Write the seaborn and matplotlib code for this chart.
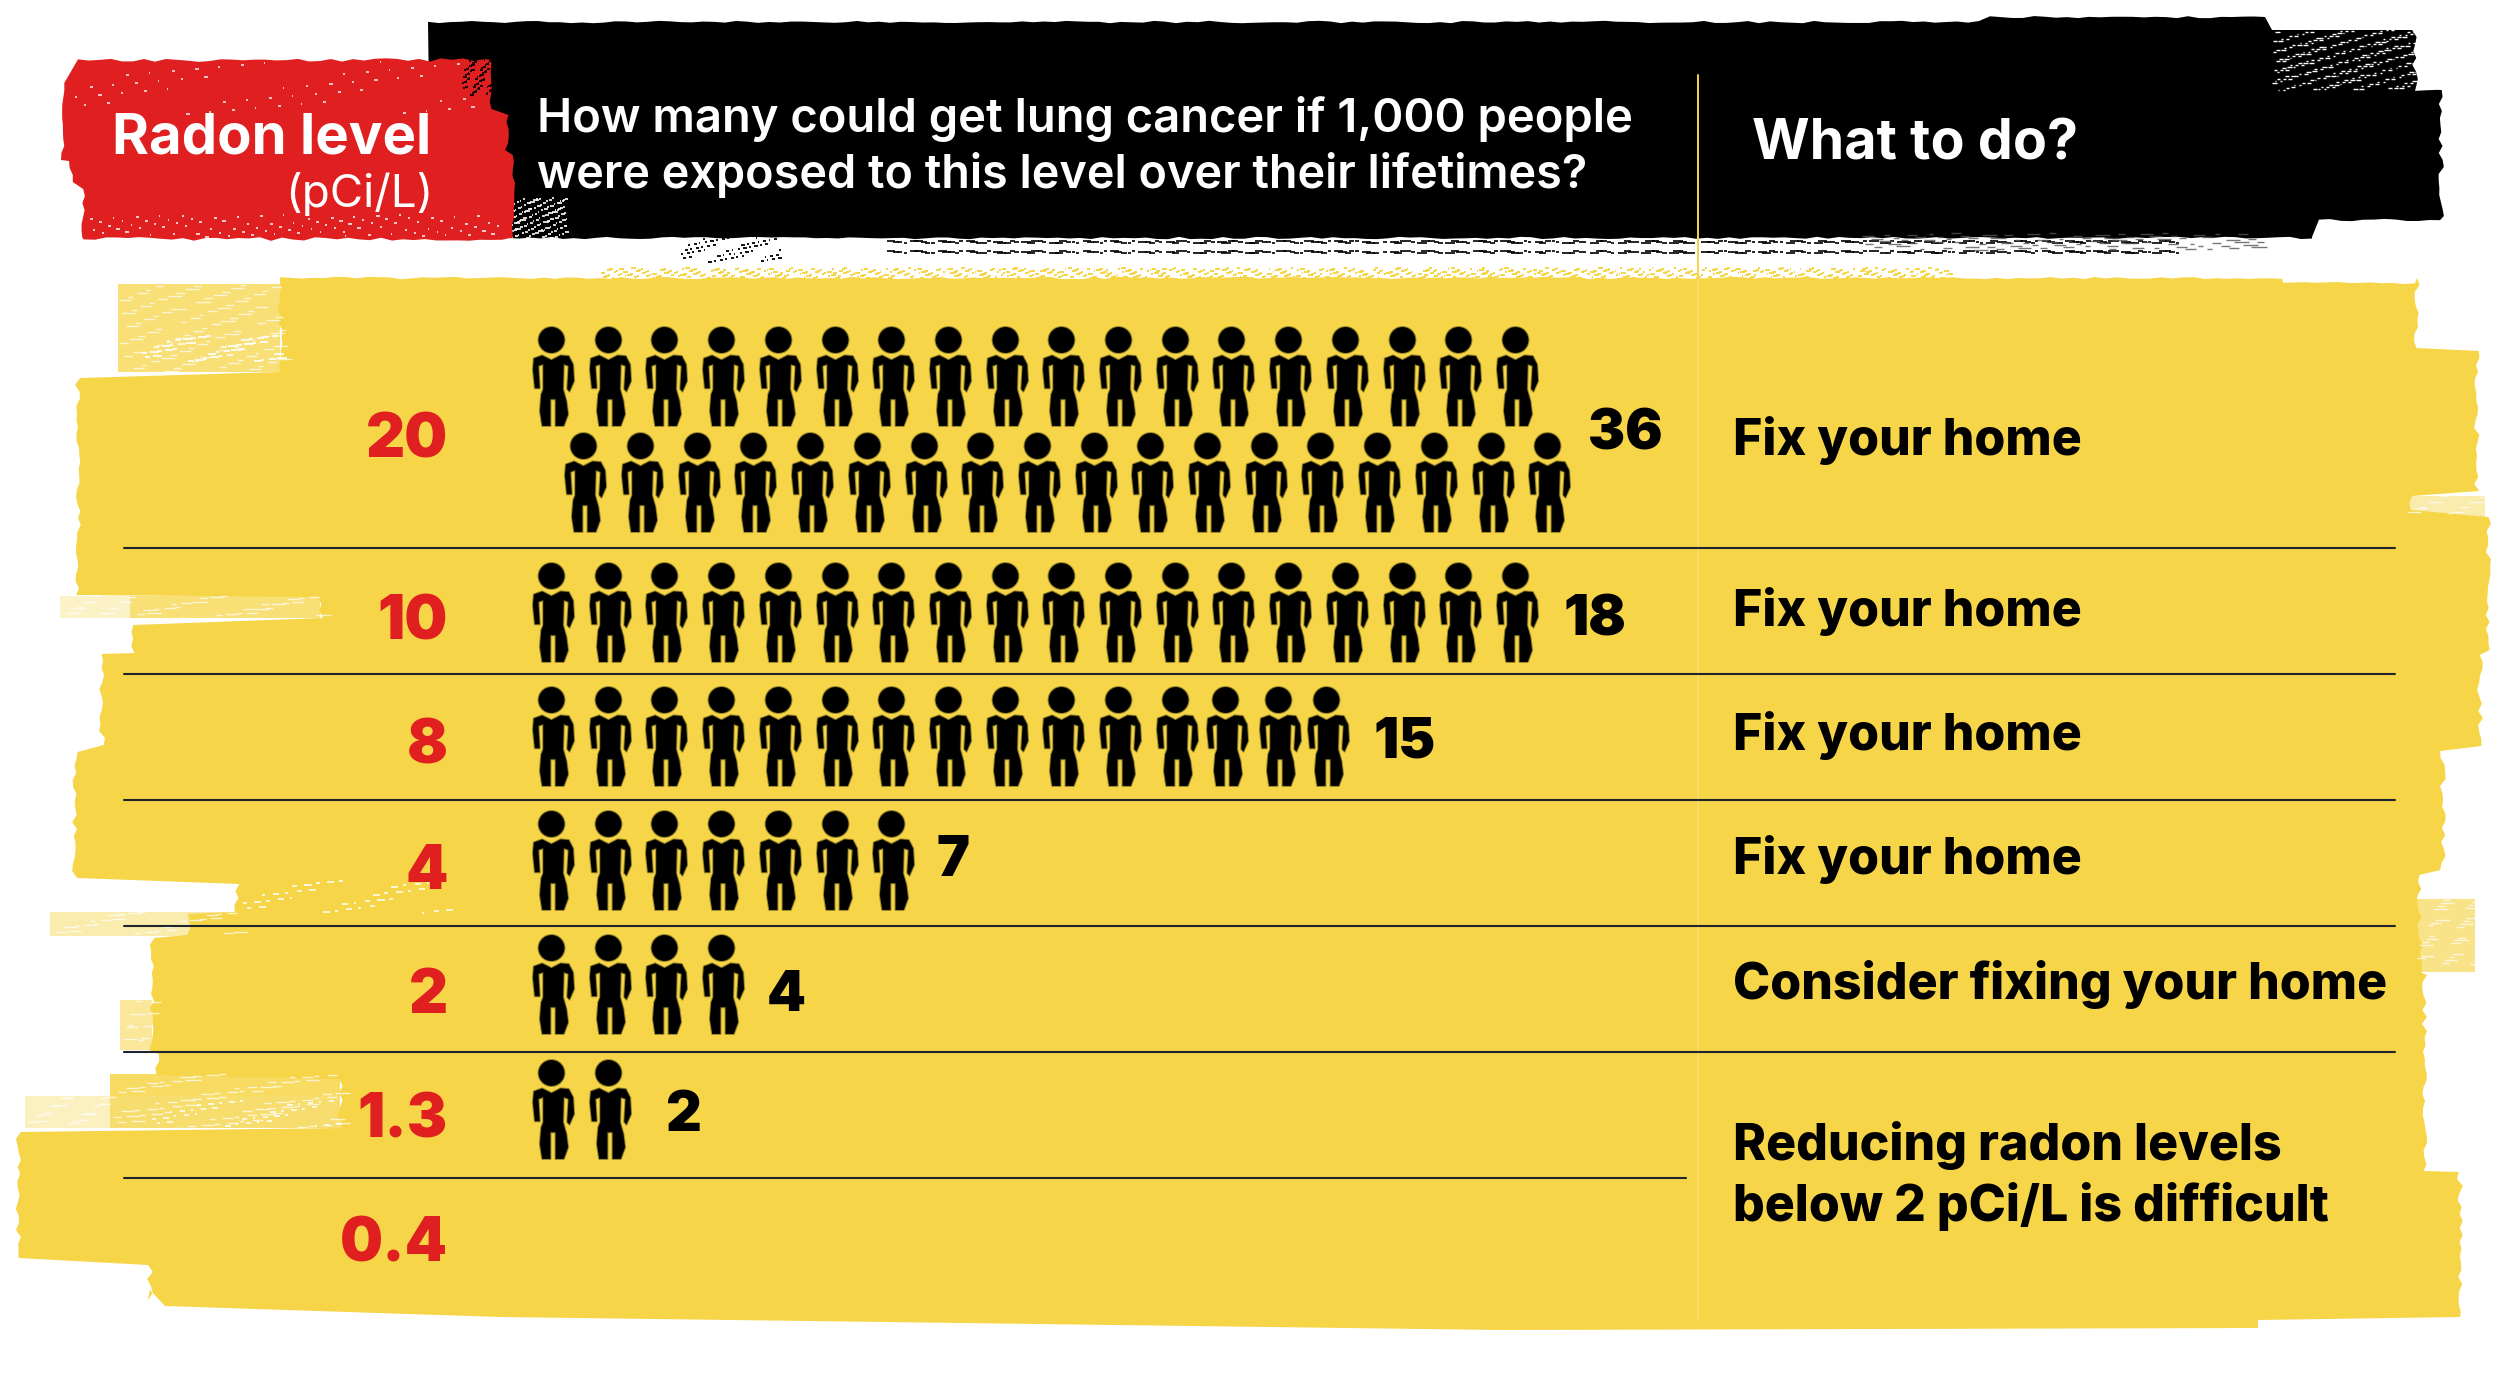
import numpy as np
import pandas as pd
import matplotlib
matplotlib.use("Agg")
import matplotlib.pyplot as plt
import seaborn as sns
from matplotlib.path import Path
from matplotlib.patches import Polygon
from matplotlib.collections import LineCollection

# chart values
radon_levels = ["20", "10", "8", "4", "2", "1.3", "0.4"]
cancer_counts = [36, 18, 15, 7, 4, 2, 0]
actions = ["Fix your home", "Fix your home", "Fix your home", "Fix your home",
           "Consider fixing your home"]
action_last = ["Reducing radon levels", "below 2 pCi/L is difficult"]

# colours
YELLOW = "#f6d548"
RED = "#e02020"
BLACK = "#000000"
RULE = "#20242c"

sns.set_theme(style="white")
plt.rcParams["font.family"] = ["Inter", "DejaVu Sans"]

fig = plt.figure(figsize=(25, 13.76), dpi=100)
ax = fig.add_axes([0, 0, 1, 1])
ax.set_xlim(0, 2500)
ax.set_ylim(1376, 0)
ax.axis("off")


def wobble(n, amp, seed=0.0):
    # deterministic rough edge, no rng
    h = np.sin(np.arange(n) * 12.9898 + seed) * 43758.5453
    return amp * (h - np.floor(h) - 0.5) * 2


def rough_v(x, y0, y1, amp=3, step=7, seed=1.0):
    ys = np.arange(y0, y1, step) if y1 > y0 else np.arange(y0, y1, -step)
    xs = x + wobble(len(ys), amp, seed + x)
    return list(zip(xs, ys))


def rough_h(y, x0, x1, amp=1.2, step=11, seed=2.0):
    xs = np.arange(x0, x1, step) if x1 > x0 else np.arange(x0, x1, -step)
    ys = y + wobble(len(xs), amp, seed + y)
    return list(zip(xs, ys))


def streaks(x0, y0, x1, y1, color, n, length=8, lw=1.2, alpha=1.0, zorder=3, seed=0.0):
    # dry brush look: short dashes on a low discrepancy grid
    i = np.arange(1, n + 1)
    u = (i * 0.6180339887 + seed) % 1
    v = (i * 0.7548776662 + seed * 0.5) % 1
    w = (i * 0.5698402910) % 1
    xs = x0 + u * (x1 - x0)
    ys = y0 + v * (y1 - y0)
    segs = [[(a, b), (a + length * (0.3 + c), b)] for a, b, c in zip(xs, ys, w)]
    ax.add_collection(LineCollection(segs, colors=color, linewidths=lw, alpha=alpha, zorder=zorder))


# yellow brush block
left_steps = [(278, 372, 280), (372, 595, 78), (595, 618, 320), (618, 653, 133), (653, 745, 102),
              (745, 878, 75), (878, 912, 237), (912, 935, 190), (935, 1050, 152), (1050, 1075, 157),
              (1075, 1128, 340), (1128, 1258, 18), (1258, 1300, 150)]
right_steps = [(278, 351, 2417), (351, 496, 2477), (496, 517, 2410), (517, 655, 2488), (655, 751, 2480),
               (751, 875, 2443), (875, 975, 2420), (975, 1172, 2425), (1172, 1317, 2460)]
outline = rough_h(278, 280, 2283, seed=3.0) + rough_h(283, 2283, 2417, seed=4.0)
for y0, y1, x in right_steps:
    outline += rough_v(x, y0, y1, amp=3)
outline += [(2460, 1317), (2258, 1320), (2258, 1328), (1500, 1330), (500, 1317), (165, 1306), (150, 1290)]
for y0, y1, x in reversed(left_steps):
    outline += rough_v(x, y1, y0, amp=3, seed=5.0)
ax.add_patch(Polygon(outline, closed=True, fc=YELLOW, ec="none", zorder=1))

# faded dry brush strips round the block: x0, y0, x1, y1, strength
faded = [(118, 284, 280, 372, 0.75), (60, 596, 130, 618, 0.3), (130, 596, 320, 618, 0.75),
         (50, 912, 237, 936, 0.45), (110, 1074, 340, 1096, 0.85), (110, 1096, 340, 1128, 0.8),
         (25, 1096, 110, 1128, 0.35), (2400, 496, 2485, 517, 0.45), (2415, 899, 2475, 972, 0.65),
         (120, 1000, 152, 1050, 0.55)]
for x0, y0, x1, y1, strength in faded:
    ax.fill_between([x0, x1], y0, y1, color=YELLOW, alpha=strength, lw=0, zorder=1)
    n = int((x1 - x0) * (y1 - y0) / 150)
    streaks(x0, y0, x1, y1, "white", n, length=12, lw=1.0, alpha=0.7, zorder=1.5)

# streak along the top of the yellow and white flecks on the left
streaks(600, 268, 1950, 278, YELLOW, 700, length=4, lw=1.4, zorder=1)
streaks(140, 335, 280, 362, "white", 45, length=8, lw=1.2, zorder=1.5)
streaks(240, 880, 450, 915, "white", 40, length=6, lw=1.1, zorder=1.5)
streaks(150, 1100, 340, 1128, "white", 40, length=5, lw=1.1, zorder=1.5)

# black header block
black_outline = (rough_h(22, 428, 1990, seed=6.0) + rough_h(17, 1990, 2272, seed=7.0)
                 + [(2272, 30), (2412, 30)] + rough_v(2415, 30, 90, amp=3)
                 + rough_h(90, 2415, 2438, seed=1.0) + rough_v(2441, 90, 220, amp=3)
                 + rough_h(220, 2440, 2312, seed=8.0) + [(2312, 237)]
                 + rough_h(238, 2312, 428, seed=9.0))
ax.add_patch(Polygon(black_outline, closed=True, fc=BLACK, ec="none", zorder=2))
streaks(2272, 30, 2415, 90, "white", 260, length=4, lw=1.0, zorder=2.2)
streaks(510, 198, 566, 238, "white", 130, length=3, lw=1.2, zorder=2.2)

# black streaks under the header
for yy in (242, 252):
    streaks(880, yy - 1.5, 2180, yy + 1.5, BLACK, 230, length=8, lw=1.2, zorder=2)
streaks(680, 238, 780, 262, BLACK, 60, length=3, lw=1.3, zorder=2)
streaks(1860, 233, 2260, 250, "#555555", 90, length=12, lw=1.0, alpha=0.8, zorder=2)

# red header box
red_outline = (rough_h(60, 78, 487, amp=2, seed=10.0) + rough_v(491, 60, 115, amp=2)
               + rough_v(507, 115, 155, amp=2) + rough_v(513, 155, 238, amp=2)
               + rough_h(239, 513, 83, amp=2, seed=11.0) + rough_v(83, 238, 182, amp=2)
               + rough_v(71, 182, 160, amp=2) + rough_v(63, 160, 78, amp=2))
ax.add_patch(Polygon(red_outline, closed=True, fc=RED, ec="none", zorder=3))
streaks(70, 62, 480, 115, "white", 55, length=3, lw=1.2, alpha=0.85, zorder=3.1)
streaks(88, 215, 500, 237, "white", 90, length=3, lw=1.2, alpha=0.9, zorder=3.1)
streaks(462, 60, 491, 95, BLACK, 60, length=3, lw=1.2, zorder=3.1)

# column divider
ax.plot([1698, 1698], [75, 278], color=YELLOW, lw=1.4, zorder=4)
ax.plot([1698, 1698], [278, 1320], color="#f8dc68", lw=1.4, zorder=1.2)

# row rules
rule_y = [548, 674, 800, 926, 1052, 1178]
for i, yy in enumerate(rule_y):
    x_end = 1686 if i == len(rule_y) - 1 else 2395
    ax.plot([124, x_end], [yy, yy], color=RULE, lw=1.5, zorder=2)

# person glyph, outline, y pointing up
raw = [(100, 172), (125, 163), (153, 177), (180, 163), (205, 165), (218, 190), (221, 240), (207, 272),
       (200, 264), (204, 195), (190, 190), (188, 265), (198, 300), (203, 340), (190, 375), (165, 375),
       (165, 295), (150, 295), (150, 375), (125, 375), (118, 330), (122, 280), (128, 265), (128, 190),
       (114, 195), (118, 262), (103, 262), (97, 205)]
raw = np.array(raw, dtype=float)
body_xy = np.column_stack([(raw[:, 0] - 159) / 3, 49.5 - (raw[:, 1] - 78) / 3])
body = Path(np.vstack([body_xy, body_xy[:1]]), closed=True)
head = Path.circle((-2, 49.5 - 13), 13)
person = Path.make_compound_path(head, body)

# one row of the table per person
col_step = 56.7
first_x = 553
row_centre = [None, 612, 736, 860, 984, 1109, None]
top_rows = [376, 482]
squeeze = {12: 11.88, 13: 12.83, 14: 13.67}
rows = []
for i, n in enumerate(cancer_counts):
    for k in range(n):
        if i == 0:
            line = k // 18
            rows.append({"level": radon_levels[i], "x": first_x + (k % 18 + 0.57 * line) * col_step, "y": top_rows[line]})
        else:
            col = squeeze.get(k, k) if i == 2 else k
            rows.append({"level": radon_levels[i], "x": first_x + col * col_step, "y": row_centre[i]})
people = pd.DataFrame(rows)
sns.scatterplot(data=people, x="x", y="y", marker=person, s=(99 * 0.72) ** 2, color=BLACK,
                edgecolor=(0.1, 0.1, 0, 0.4), linewidth=1.4, legend=False, ax=ax, zorder=5)
ax.set_xlim(0, 2500)
ax.set_ylim(1376, 0)

# radon level labels
level_base = [457, 639, 764, 889, 1013, 1138, 1262]
for lab, yy in zip(radon_levels, level_base):
    ax.text(448, yy, lab, color=RED, fontsize=43.5, fontweight=900, ha="right", va="baseline", zorder=6)

# count labels
count_x = [1588, 1564, 1374, 937, 767, 665]
count_base = [450, 635, 757, 876, 1011, 1131]
for n, xx, yy in zip(cancer_counts, count_x, count_base):
    ax.text(xx, yy, str(n), color=BLACK, fontsize=40, fontweight=900, ha="left", va="baseline", zorder=6)

# action labels
action_base = [455, 626, 750, 874, 999]
for lab, yy in zip(actions, action_base):
    ax.text(1733, yy, lab, color=BLACK, fontsize=36, fontweight=800, ha="left", va="baseline", zorder=6)
for lab, yy in zip(action_last, [1160, 1221]):
    ax.text(1733, yy, lab, color=BLACK, fontsize=36, fontweight=800, ha="left", va="baseline", zorder=6)

# header texts
ax.text(431, 153, "Radon level", color="white", fontsize=40.5, fontweight=700, ha="right", va="baseline", zorder=6)
ax.text(434, 207, "(pCi/L)", color="white", fontsize=33, fontweight=400, ha="right", va="baseline", zorder=6)
ax.text(537, 132, "How many could get lung cancer if 1,000 people", color="white", fontsize=34,
        fontweight=600, ha="left", va="baseline", zorder=6)
ax.text(537, 188, "were exposed to this level over their lifetimes?", color="white", fontsize=33.7,
        fontweight=600, ha="left", va="baseline", zorder=6)
ax.text(1752, 159, "What to do?", color="white", fontsize=40, fontweight=700, ha="left", va="baseline", zorder=6)

fig.savefig("out.png", dpi=100, facecolor="white")
